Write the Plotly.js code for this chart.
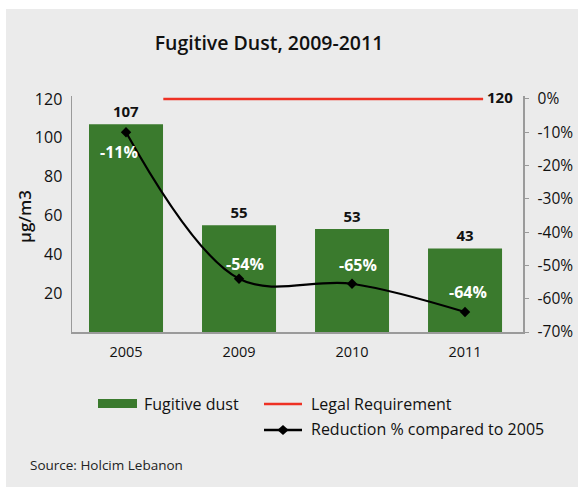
<!DOCTYPE html>
<html>
<head>
<meta charset="utf-8">
<script src="https://cdn.plot.ly/plotly-3.0.1.min.js"></script>
<style>
html,body{margin:0;padding:0;background:#ffffff;}
#chart{position:absolute;left:6px;top:9px;width:572px;height:478px;}
</style>
</head>
<body>
<div id="chart"></div>
<script>
// ---- data ----
var years = ['2005', '2009', '2010', '2011'];
var dustValues = [107, 55, 53, 43];
var reductionValues = [-0.10, -0.54, -0.555, -0.64];
var reductionLabels = ['-11%', '-54%', '-65%', '-64%'];
var legalRequirement = 120;
var legalSpan = [0.33, 3.16];
var leftTicks = [20, 40, 60, 80, 100, 120];
var rightTicks = [0, -0.1, -0.2, -0.3, -0.4, -0.5, -0.6, -0.7];
var rightTickText = ['0%', '-10%', '-20%', '-30%', '-40%', '-50%', '-60%', '-70%'];

var FONT = 'Open Sans, Noto Sans, sans-serif';
var GREEN = '#3a7a2d';
var RED = '#ee3124';
var AXIS = '#9a9a9a';

var xIdx = years.map(function (d, i) { return i; });

// left range extended slightly above 120 so the legal line is not clipped
var yTop = 121.5;
var y2Top = (yTop - 120) / 120 * 0.7;

var bars = {
  type: 'bar', x: xIdx, y: dustValues, width: 0.655,
  marker: {color: GREEN},
  text: dustValues.map(String), textposition: 'outside',
  textfont: {family: FONT, size: 15, color: '#111', weight: 700},
  cliponaxis: false, hoverinfo: 'skip', name: 'Fugitive dust'
};

var legal = {
  type: 'scatter', mode: 'lines+text',
  x: legalSpan, y: [legalRequirement, legalRequirement],
  line: {color: RED, width: 2.5},
  text: ['', ' ' + String(legalRequirement)], textposition: 'middle right',
  textfont: {family: FONT, size: 15, color: '#111', weight: 700},
  cliponaxis: false, name: 'Legal Requirement'
};

var reduction = {
  type: 'scatter', mode: 'lines+markers',
  x: xIdx, y: reductionValues, yaxis: 'y2',
  line: {color: '#000', width: 2.2, shape: 'spline', smoothing: 1},
  marker: {symbol: 'diamond', size: 8, color: '#000'},
  cliponaxis: false, name: 'Reduction % compared to 2005'
};

var labelShift = [[-7, -20], [6, 15], [6, 19], [3, 20]];
var annotations = reductionLabels.map(function (t, i) {
  return {
    x: xIdx[i], y: reductionValues[i], xref: 'x', yref: 'y2',
    text: t, showarrow: false, xshift: labelShift[i][0], yshift: labelShift[i][1],
    font: {family: FONT, size: 16, color: '#fff', weight: 700}
  };
});

// paper coordinate helpers (plot area: page x 72..523, y 96..332)
var TOPPX = 332 - 233 * yTop / 120;
var H = 332 - TOPPX;
function px(p) { return (p - 72) / 451; }
function py(p) { return (332 - p) / H; }

annotations.push(
  {xref: 'paper', yref: 'paper', x: px(142), y: py(404), xanchor: 'left', yanchor: 'middle',
   text: 'Fugitive dust', showarrow: false, font: {family: FONT, size: 16, color: '#111'}},
  {xref: 'paper', yref: 'paper', x: px(309), y: py(404), xanchor: 'left', yanchor: 'middle',
   text: 'Legal Requirement', showarrow: false, font: {family: FONT, size: 16, color: '#111'}},
  {xref: 'paper', yref: 'paper', x: px(309), y: py(429), xanchor: 'left', yanchor: 'middle',
   text: 'Reduction % compared to 2005', showarrow: false, font: {family: FONT, size: 16, color: '#111'}},
  {xref: 'paper', yref: 'paper', x: px(28), y: py(465), xanchor: 'left', yanchor: 'middle',
   text: 'Source: Holcim Lebanon', showarrow: false, font: {family: FONT, size: 13.5, color: '#222'}},
  {xref: 'paper', yref: 'paper', x: px(25), y: py(217), xanchor: 'center', yanchor: 'middle',
   text: 'µg/m3', textangle: -90, showarrow: false, font: {family: FONT, size: 17, color: '#111', weight: 600}}
);

var dx = 0.0125, dy = 0.0215;
var shapes = [
  {type: 'rect', xref: 'paper', yref: 'paper', x0: px(98), x1: px(137), y0: py(399), y1: py(408),
   fillcolor: GREEN, line: {width: 0}},
  {type: 'line', xref: 'paper', yref: 'paper', x0: px(264), x1: px(302), y0: py(404), y1: py(404),
   line: {color: RED, width: 2.5}},
  {type: 'line', xref: 'paper', yref: 'paper', x0: px(264), x1: px(302), y0: py(430), y1: py(430),
   line: {color: '#000', width: 2.5}},
  {type: 'path', xref: 'paper', yref: 'paper',
   path: 'M ' + px(283) + ' ' + (py(430) + dy) + ' L ' + (px(283) + dx) + ' ' + py(430) +
         ' L ' + px(283) + ' ' + (py(430) - dy) + ' L ' + (px(283) - dx) + ' ' + py(430) + ' Z',
   fillcolor: '#000', line: {width: 0}}
];

var layout = {
  width: 572, height: 478,
  margin: {l: 66, r: 55, t: TOPPX - 9, b: 155},
  paper_bgcolor: '#ebebeb', plot_bgcolor: '#ebebeb',
  showlegend: false,
  font: {family: FONT, color: '#111'},
  title: {text: 'Fugitive Dust, 2009-2011', x: px(269), xref: 'paper', xanchor: 'center',
          y: 1 - 34 / 478, yref: 'container', yanchor: 'middle',
          font: {family: FONT, size: 19.5, color: '#111', weight: 600}},
  xaxis: {
    range: [-0.478, 3.513], tickvals: xIdx, ticktext: years,
    showgrid: false, zeroline: false, showline: true, linecolor: AXIS, linewidth: 1.5,
    ticks: '', tickfont: {family: FONT, size: 14.5, color: '#111'}, ticklabelstandoff: 6,
    fixedrange: true
  },
  yaxis: {
    range: [0, yTop], tickvals: leftTicks, ticktext: leftTicks.map(String),
    showgrid: false, zeroline: false, showline: true, linecolor: AXIS, linewidth: 1.5,
    ticks: '', tickfont: {family: FONT, size: 16, color: '#111'}, ticklabelstandoff: 5
  },
  yaxis2: {
    overlaying: 'y', side: 'right', range: [-0.7, y2Top],
    tickvals: rightTicks, ticktext: rightTickText,
    showgrid: false, zeroline: false, showline: true, linecolor: AXIS, linewidth: 1.5,
    ticks: 'outside', ticklen: 4, tickcolor: AXIS,
    tickfont: {family: FONT, size: 15.5, color: '#111'}, ticklabelstandoff: 6
  },
  annotations: annotations,
  shapes: shapes
};

Plotly.newPlot('chart', [bars, legal, reduction], layout, {displayModeBar: false, staticPlot: true});
</script>
</body>
</html>
